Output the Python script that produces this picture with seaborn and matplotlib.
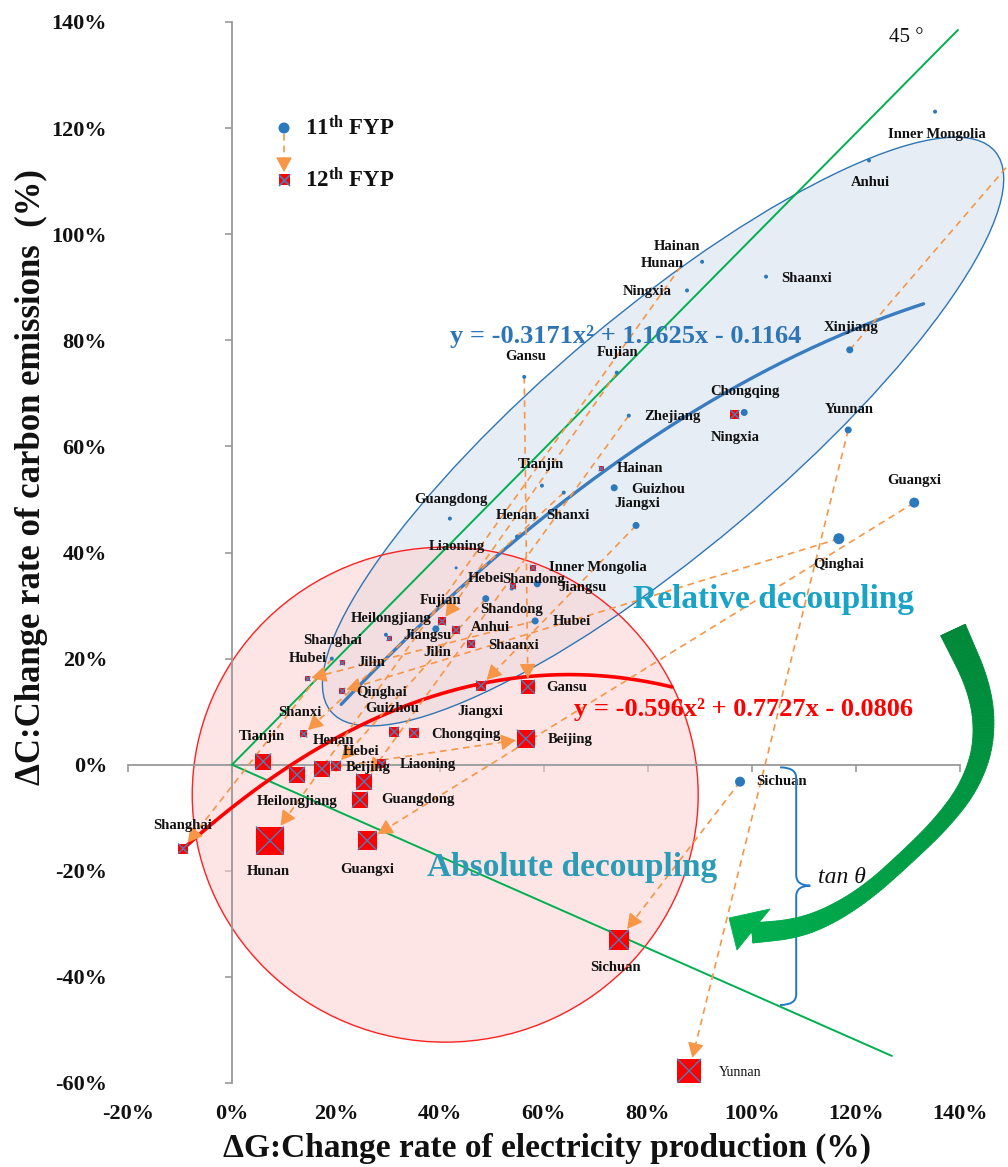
import numpy as np
import pandas as pd
import matplotlib
matplotlib.use("Agg")
import matplotlib.pyplot as plt
import seaborn as sns
from matplotlib.patches import Ellipse, PathPatch, Polygon
from matplotlib.path import Path
from matplotlib.collections import PolyCollection

# ---------------- data (percent change) ----------------
prov_11 = ["Inner Mongolia", "Anhui", "Hainan", "Hunan", "Ningxia", "Shaanxi", "Xinjiang",
           "Fujian", "Gansu", "Zhejiang", "Chongqing", "Yunnan", "Tianjin", "Shanxi",
           "Guizhou", "Jiangxi", "Guangxi", "Qinghai", "Guangdong", "Henan", "Liaoning",
           "Hebei", "Jiangsu", "Hubei", "Shandong", "Jilin", "Heilongjiang", "Shanghai",
           "Beijing", "Sichuan"]
dG_11 = [135.2, 122.5, 90.4, 86.3, 87.5, 102.7, 118.8, 74.0, 56.2, 76.3, 98.5, 118.5,
         59.6, 63.8, 73.5, 77.7, 131.2, 116.7, 41.9, 54.8, 43.1, 48.8, 58.7, 58.3,
         53.8, 39.2, 29.6, 19.2, 20.0, 97.7]
dC_11 = [123.1, 113.9, 94.8, 93.9, 89.4, 92.0, 78.2, 73.9, 73.1, 65.8, 66.4, 63.1,
         52.6, 51.3, 52.2, 45.1, 49.4, 42.6, 46.4, 43.0, 37.1, 31.3, 34.1, 27.1,
         33.2, 25.6, 24.5, 20.0, -0.4, -3.2]
mag_11 = [16, 16, 16, 9, 16, 16, 49, 16, 16, 16, 49, 49, 16, 16, 49, 49, 100, 121,
          16, 16, 9, 49, 49, 49, 16, 49, 16, 16, 16, 100]

prov_12 = ["Shanghai", "Tianjin", "Heilongjiang", "Henan", "Hebei", "Guangdong", "Zhejiang",
           "Liaoning", "Hunan", "Guangxi", "Shanxi", "Qinghai", "Chongqing", "Guizhou",
           "Beijing", "Jiangxi", "Gansu", "Inner Mongolia", "Shandong", "Fujian", "Anhui",
           "Shaanxi", "Jiangsu", "Jilin", "Hubei", "Sichuan", "Yunnan", "Ningxia", "Hainan",
           "Xinjiang"]
dG_12 = [-9.4, 6.0, 12.5, 17.3, 20.0, 24.6, 25.4, 28.8, 7.3, 26.0, 13.8, 21.2, 35.0,
         31.2, 56.5, 47.9, 56.9, 57.9, 54.0, 40.4, 43.1, 46.0, 30.2, 21.2, 14.6, 74.4,
         87.9, 96.7, 71.0, 158.0]
dC_12 = [-15.8, 0.6, -1.9, -0.8, -0.2, -6.6, -3.2, 0.2, -14.3, -14.3, 5.8, 13.9, 6.0,
         6.2, 4.9, 14.9, 14.7, 37.1, 33.6, 27.0, 25.4, 22.8, 23.8, 19.2, 16.2, -33.0,
         -57.7, 66.0, 55.8, 123.0]
mag_12 = [100, 256, 256, 256, 100, 256, 256, 81, 784, 361, 49, 36, 100, 100, 324, 100,
          196, 36, 36, 64, 64, 64, 25, 25, 25, 400, 576, 81, 25, 100]

# provinces whose move between the two plan periods is traced with an arrow
moved = ["Hunan", "Fujian", "Zhejiang", "Shanxi", "Hebei", "Jiangxi", "Qinghai", "Guangxi",
         "Shanghai", "Beijing", "Gansu", "Yunnan", "Sichuan", "Xinjiang", "Hubei"]

# quadratic trend lines, y = a x^2 + b x + c (fractions)
trend_11 = [-0.3171, 1.1625, -0.1164]
trend_12 = [-0.596, 0.7727, -0.0806]

x_ticks = [-20, 0, 20, 40, 60, 80, 100, 120, 140]
x_tick_labels = ["-20%", "0%", "20%", "40%", "60%", "80%", "100%", "120%", "140%"]
y_ticks = [-60, -40, -20, 0, 20, 40, 60, 80, 100, 120, 140]
y_tick_labels = ["-60%", "-40%", "-20%", "0%", "20%", "40%", "60%", "80%", "100%",
                 "120%", "140%"]

# label placement (pixel offsets from the marker, y downwards)
label_off_11 = {
    "Inner Mongolia": (2, 23), "Anhui": (1, 22), "Hainan": (-25, -15), "Hunan": (-18, -3),
    "Ningxia": (-40, 1), "Shaanxi": (41, 2), "Xinjiang": (1, -22), "Fujian": (1, -20),
    "Gansu": (1, -20), "Zhejiang": (44, 1), "Chongqing": (1, -21), "Yunnan": (1, -20),
    "Tianjin": (-1, -21), "Shanxi": (4, 23), "Guizhou": (44, 2), "Jiangxi": (1, -22),
    "Guangxi": (0, -22), "Qinghai": (0, 26), "Guangdong": (1, -19), "Henan": (0, -21),
    "Liaoning": (1, -21), "Hebei": (0, -20), "Jiangsu": (45, 4), "Hubei": (37, 1),
    "Shandong": (0, 21), "Jilin": (1, 24), "Heilongjiang": (5, -16), "Shanghai": (1, -18),
    "Beijing": (32, 1), "Sichuan": (41, 0)}
label_off_12 = {
    "Shanghai": (0, -23), "Tianjin": (-1, -25), "Heilongjiang": (0, 27), "Henan": (12, -28),
    "Hebei": (25, -14), "Guangdong": (58, 0), "Liaoning": (46, 1), "Hunan": (-2, 31),
    "Guangxi": (0, 29), "Shanxi": (-4, -21), "Qinghai": (39, 2), "Chongqing": (52, 2),
    "Guizhou": (-2, -23), "Beijing": (44, 1), "Jiangxi": (-1, 26), "Gansu": (39, 1),
    "Inner Mongolia": (65, 0), "Shandong": (21, -7), "Fujian": (-2, -21), "Anhui": (34, -2),
    "Shaanxi": (42, 2), "Jiangsu": (38, -3), "Jilin": (29, 0), "Hubei": (0, -20),
    "Sichuan": (-3, 28), "Yunnan": (51, 2), "Ningxia": (0, 23), "Hainan": (39, 0)}

# ---------------- style ----------------
sns.set_theme(style="white")
plt.rcParams["font.family"] = ["Liberation Serif", "DejaVu Serif"]
plt.rcParams["mathtext.fontset"] = "custom"
plt.rcParams["mathtext.rm"] = "Liberation Serif"
plt.rcParams["mathtext.it"] = "Liberation Serif:italic"
plt.rcParams["mathtext.bf"] = "Liberation Serif:bold"

BLUE = "#2a79bd"
XBLUE = "#4a7ebb"
ORANGE = "#f79646"
GREEN = "#00b050"
GREY = "#999999"
SIZE_NORM = (0, 900)
SIZE_RANGE = (0, 0.5184 * 900)

W, H = 1008, 1167
fig = plt.figure(figsize=(W / 100, H / 100), dpi=100)
ax = fig.add_axes([128 / W, 1 - 1083 / H, 832 / W, 1061 / H])
ax.set_facecolor("none")

df11 = pd.DataFrame({"province": prov_11, "dG": dG_11, "dC": dC_11, "mag": mag_11})
df12 = pd.DataFrame({"province": prov_12, "dG": dG_12, "dC": dC_12, "mag": mag_12})

# ---------------- background regions ----------------
ell = dict(xy=(82.9, 62.8), width=165.7, height=45.0, angle=39.5)
ax.add_patch(Ellipse(**ell, facecolor="#dbe4f0", alpha=0.65, edgecolor="none",
                     zorder=1, clip_on=False))
ax.add_patch(Ellipse(**ell, facecolor="none", edgecolor="#2e75b6", lw=1.0, zorder=1.2,
                     clip_on=False))
ax.add_patch(Ellipse((41.0, -5.65), 97.3, 93.3, facecolor="#fcd0d0", alpha=0.55,
                     edgecolor="none", zorder=1.1))
ax.add_patch(Ellipse((41.0, -5.65), 97.3, 93.3, facecolor="none", edgecolor="#ff2020",
                     lw=1.0, zorder=1.3))

# reference lines through the origin
ax.plot([0, 139.6], [0, 138.5], color=GREEN, lw=1.4, zorder=2, clip_on=False)
ax.plot([0, 126.9], [0, -54.9], color=GREEN, lw=1.4, zorder=2, clip_on=False)

# ---------------- trend curves ----------------
xs = np.linspace(0.21, 1.33, 200)
ax.plot(xs * 100, np.polyval(trend_11, xs) * 100, color="#3a7cc0", lw=2.4, zorder=3)
xs = np.linspace(-0.094, 0.846, 200)
ax.plot(xs * 100, np.polyval(trend_12, xs) * 100, color="#ff0000", lw=2.6, zorder=3)

ax.set_xlim(-20, 140)
ax.set_ylim(-60, 140)

# ---------------- points ----------------
sns.scatterplot(data=df11, x="dG", y="dC", size="mag", sizes=SIZE_RANGE, size_norm=SIZE_NORM,
                color=BLUE, edgecolor="none", linewidth=0, legend=False, ax=ax, zorder=6)
sns.scatterplot(data=df12, x="dG", y="dC", size="mag", sizes=SIZE_RANGE, size_norm=SIZE_NORM,
                marker="s", color="#ff0000", edgecolor="none", linewidth=0, legend=False,
                ax=ax, zorder=6.5)
sns.scatterplot(data=df12, x="dG", y="dC", size="mag", sizes=SIZE_RANGE, size_norm=SIZE_NORM,
                marker="x", color=XBLUE, linewidth=1.0, legend=False, ax=ax, zorder=6.6)
ax.set_xlim(-20, 140)
ax.set_ylim(-60, 140)
ax.set_xlabel("")
ax.set_ylabel("")

# ---------------- arrows from 11th to 12th FYP ----------------
inv = ax.transData.inverted()
p11 = df11.set_index("province")
p12 = df12.set_index("province")
for name in moved:
    a = ax.transData.transform((p11.loc[name, "dG"], p11.loc[name, "dC"]))
    b = ax.transData.transform((p12.loc[name, "dG"], p12.loc[name, "dC"]))
    v = b - a
    u = v / np.hypot(*v)
    side = np.sqrt(0.5184 * p12.loc[name, "mag"]) * 100 / 72
    edge = (side / 2) / max(abs(u[0]), abs(u[1])) + 1.0
    tip = b - u * edge
    base = tip - u * 9
    seg = inv.transform(np.array([a, base + u * 3]))
    ax.plot(seg[:, 0], seg[:, 1], color=ORANGE, lw=1.2, ls=(0, (4, 3)), zorder=4,
            clip_on=False)
    ax.annotate("", xy=inv.transform(tip), xytext=inv.transform(base),
                arrowprops=dict(arrowstyle="-|>,head_length=0.7,head_width=0.38",
                                mutation_scale=13, color=ORANGE, lw=1.0,
                                shrinkA=0, shrinkB=0),
                zorder=4.5, annotation_clip=False)

# ---------------- point labels ----------------
for df, offs in ((df11, label_off_11), (df12, label_off_12)):
    for _, row in df.iterrows():
        if row["province"] not in offs:
            continue
        dx, dy = offs[row["province"]]
        light = df is df12 and row["province"] == "Yunnan"
        ax.annotate(row["province"], (row["dG"], row["dC"]),
                    xytext=(dx * 0.72, -dy * 0.72), textcoords="offset points",
                    ha="center", va="center", fontsize=10 if light else 10.5,
                    fontweight="normal" if light else "bold", color="#111111",
                    zorder=7, annotation_clip=False)

# ---------------- axes styling ----------------
for s in ("top", "right"):
    ax.spines[s].set_visible(False)
ax.spines["left"].set_position(("data", 0))
ax.spines["bottom"].set_position(("data", 0))
for s in ("left", "bottom"):
    ax.spines[s].set_color(GREY)
    ax.spines[s].set_linewidth(1.3)
    ax.spines[s].set_zorder(1.5)
ax.set_xticks(x_ticks)
ax.set_yticks(y_ticks)
ax.tick_params(axis="both", direction="out", length=5, width=1.2, color=GREY,
               labelbottom=False, labelleft=False, bottom=True, left=True)
ax.grid(False)

secx = ax.secondary_xaxis(0.0)
secx.set_xticks(x_ticks, labels=x_tick_labels, fontweight="bold", fontsize=16)
secx.tick_params(length=0, pad=15, colors="#111111")
secx.spines["bottom"].set_visible(False)
secy = ax.secondary_yaxis(0.0)
secy.set_yticks(y_ticks, labels=y_tick_labels, fontweight="bold", fontsize=16)
secy.tick_params(length=0, pad=15, colors="#111111")
secy.spines["left"].set_visible(False)

fig.text(547 / W, 1 - 1148 / H, "\u0394G:Change rate of electricity production (%)",
         ha="center", va="center", fontsize=24, fontweight="bold", color="#111111")
fig.text(31 / W, 1 - 477 / H, "\u0394C:Change rate of carbon emissions  (%)",
         ha="center", va="center", rotation=90, fontsize=25, fontweight="bold",
         color="#111111")

# ---------------- annotations ----------------
ax.text(75.8, 80.7, "y = -0.3171x\u00b2 + 1.1625x - 0.1164", color="#2e75b6",
        fontsize=19, fontweight="bold", ha="center", va="center", zorder=8)
ax.text(98.3, 10.4, "y = -0.596x\u00b2 + 0.7727x - 0.0806", color="#ff0000",
        fontsize=19, fontweight="bold", ha="center", va="center", zorder=8,
        clip_on=False)
ax.text(104.2, 31.1, "Relative decoupling", color="#19a3c6", fontsize=24,
        fontweight="bold", ha="center", va="center", zorder=8)
ax.text(65.4, -19.4, "Absolute decoupling", color="#2a9cb6", fontsize=24,
        fontweight="bold", ha="center", va="center", zorder=8)
ax.text(129.6, 137.0, "45 \u00b0", fontsize=15, ha="center", va="center", color="#111111",
        zorder=8, clip_on=False)
ax.text(112.7, -21.3, "tan \u03b8", fontsize=17, style="italic", ha="left", va="center",
        color="#111111", zorder=8)

# brace marking tan(theta) between the axis and the lower green line
xb, xc, xt = 108.5, 105.4, 111.2
yt, yb, ym, r = -0.5, -45.3, -22.8, 2.0
brace = Path([(xc, yt), (xb, yt), (xb, yt - r), (xb, ym + r), (xb, ym), (xt, ym),
              (xb, ym), (xb, ym - r), (xb, yb + r), (xb, yb), (xc, yb)],
             [Path.MOVETO, Path.CURVE3, Path.CURVE3, Path.LINETO, Path.CURVE3, Path.CURVE3,
              Path.CURVE3, Path.CURVE3, Path.LINETO, Path.CURVE3, Path.CURVE3])
ax.add_patch(PathPatch(brace, facecolor="none", edgecolor="#1f78c8", lw=1.4, zorder=8))

# legend
ax.scatter([0.1875], [0.9001], s=(0.72 * 11) ** 2, color=BLUE, edgecolor="none",
           transform=ax.transAxes, zorder=8, clip_on=False)
ax.scatter([0.1875], [0.8511], s=(0.72 * 11) ** 2, marker="s", color="#ff0000",
           edgecolor="none", transform=ax.transAxes, zorder=8, clip_on=False)
ax.scatter([0.1875], [0.8511], s=(0.72 * 11) ** 2, marker="x", color=XBLUE, linewidth=1.2,
           transform=ax.transAxes, zorder=8.1, clip_on=False)
ax.plot([0.1875, 0.1875], [0.894, 0.866], color=ORANGE, lw=1.2, ls=(0, (4, 3)),
        transform=ax.transAxes, zorder=8)
ax.annotate("", xy=(0.1875, 0.8585), xytext=(0.1875, 0.868), xycoords="axes fraction",
            textcoords="axes fraction",
            arrowprops=dict(arrowstyle="-|>,head_length=0.7,head_width=0.38",
                            mutation_scale=13, color=ORANGE, lw=1.0, shrinkA=0, shrinkB=0),
            zorder=8)
ax.text(0.2127, 0.9001, r"11$^{\mathbf{th}}$ FYP", transform=ax.transAxes, fontsize=16.5,
        fontweight="bold", ha="left", va="center", color="#111111", zorder=8)
ax.text(0.2127, 0.8511, r"12$^{\mathbf{th}}$ FYP", transform=ax.transAxes, fontsize=16.5,
        fontweight="bold", ha="left", va="center", color="#111111", zorder=8)

# ---------------- curved green arrow (figure pixels) ----------------
arc = np.array([[953, 630, 27], [981, 690, 23], [985, 742, 20], [970, 786, 18],
                [942, 823, 16], [906, 858, 15], [868, 892, 15], [830, 916, 17],
                [795, 929, 19], [752, 933, 20]], float)


def chaikin(a, n=4):
    for _ in range(n):
        q = 0.75 * a[:-1] + 0.25 * a[1:]
        rr = 0.25 * a[:-1] + 0.75 * a[1:]
        mid = np.empty((2 * len(q), a.shape[1]))
        mid[0::2] = q
        mid[1::2] = rr
        a = np.vstack([a[:1], mid, a[-1:]])
    return a


arc = chaikin(arc)
c = arc[:, :2]
tan = np.gradient(c, axis=0)
tan /= np.hypot(tan[:, 0], tan[:, 1])[:, None]
nrm = np.stack([-tan[:, 1], tan[:, 0]], axis=1)
half = arc[:, 2:3] / 2
left = c + nrm * half
right = c - nrm * half


def to_fig(p):
    p = np.atleast_2d(p)
    return np.column_stack([p[:, 0] / W, 1 - p[:, 1] / H])


c0 = np.array([0.0, 0.53, 0.22])
c1 = np.array([0.0, 0.69, 0.31])
quads, cols = [], []
n = len(c)
for i in range(n - 1):
    quads.append(to_fig(np.array([left[i], left[i + 1], right[i + 1], right[i]])))
    f = i / (n - 2)
    cols.append(tuple(c0 + (c1 - c0) * f))
pc = PolyCollection(quads, facecolors=cols, edgecolors=cols, linewidths=0.6,
                    transform=fig.transFigure, zorder=9)
fig.add_artist(pc)
fig.add_artist(Polygon(to_fig(np.array([[729, 918], [770, 909], [737, 950]])), closed=True,
                       facecolor=tuple(c1), edgecolor=tuple(c1), lw=0.6,
                       transform=fig.transFigure, zorder=9))

fig.savefig("out.png", dpi=100)
